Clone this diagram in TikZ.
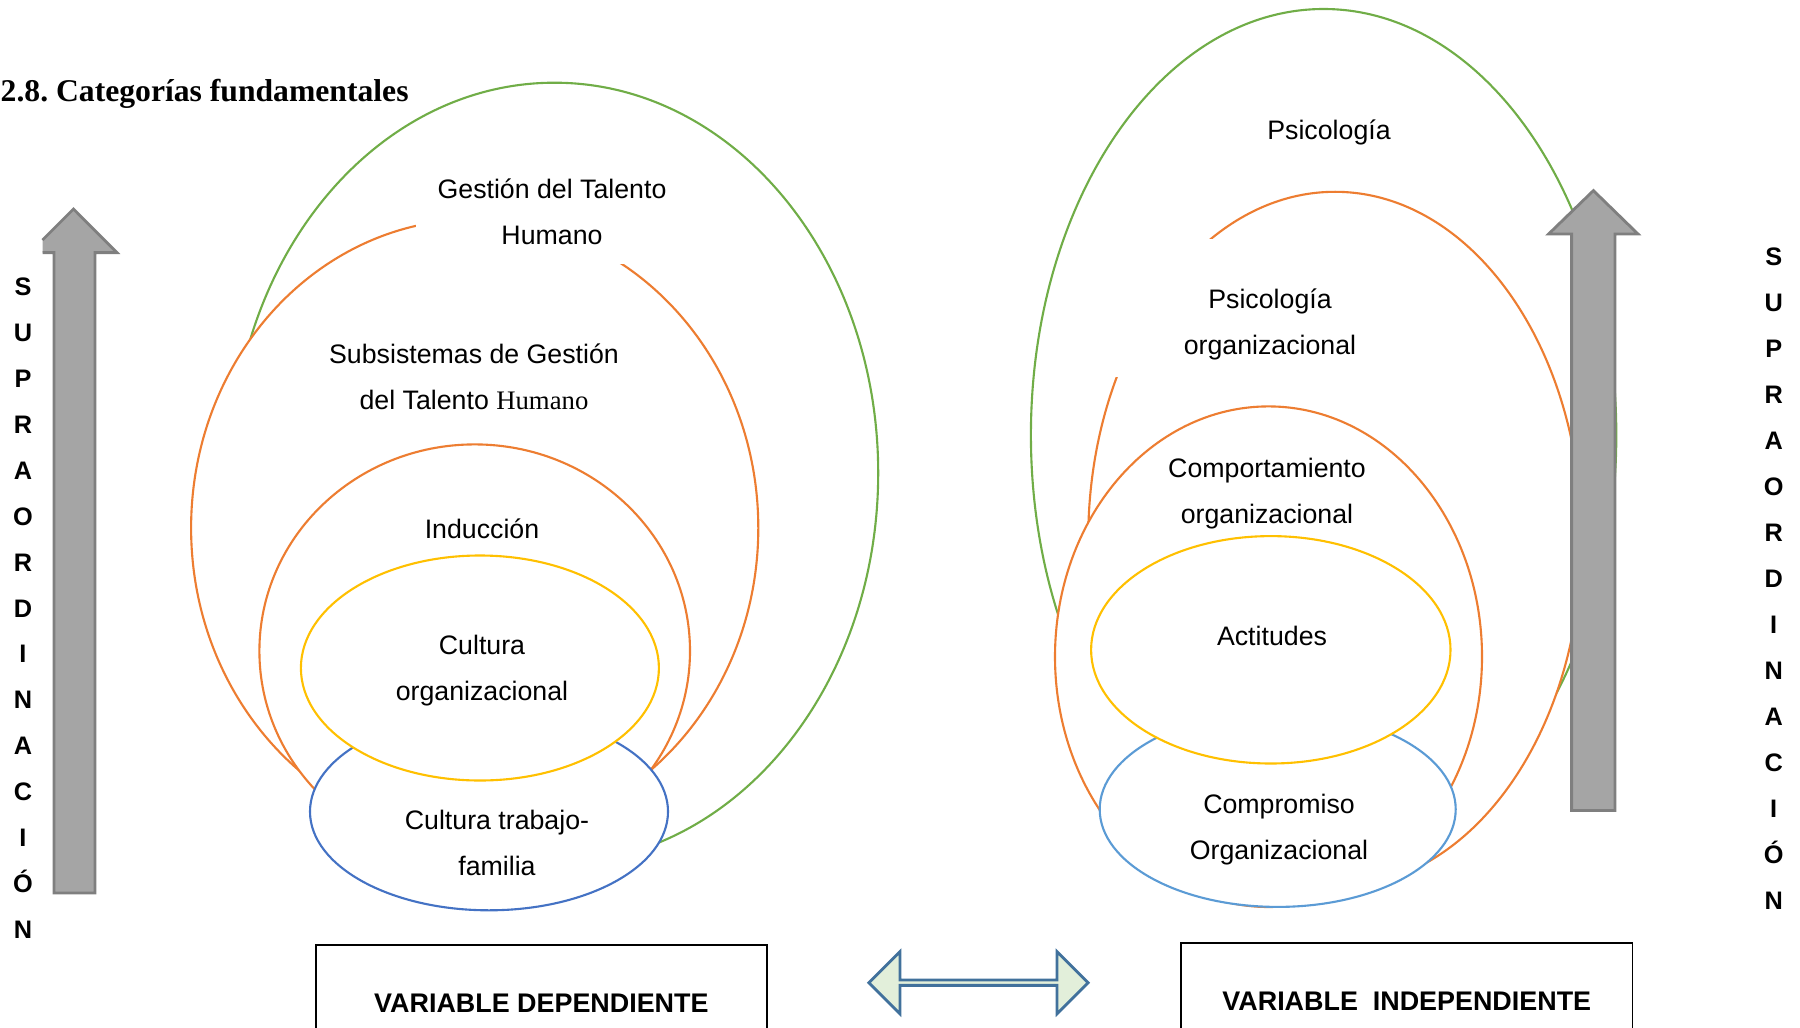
\documentclass[tikz,border=0pt]{standalone}
\usepackage{fontspec}
\setmainfont{Liberation Sans}
\newfontfamily\romana{Liberation Serif}
\usetikzlibrary{shapes.arrows}

\definecolor{verde}{HTML}{70AD47}
\definecolor{naranja}{HTML}{ED7D31}
\definecolor{amarillo}{HTML}{FFC000}
\definecolor{azul}{HTML}{4472C4}
\definecolor{celeste}{HTML}{5B9BD5}
\definecolor{gris}{HTML}{A5A5A5}
\definecolor{grisborde}{HTML}{7F7F7F}
\definecolor{verdeclaro}{HTML}{E2EFDA}
\definecolor{azulborde}{HTML}{41719C}

\tikzstyle{ring} = [fill=white, line width=0.6pt]
\tikzstyle{tapa} = [fill=white, draw=none]
\tikzstyle{categoria} = [align=center, inner sep=0pt, font=\fontsize{7.6pt}{13.1pt}\selectfont]
\tikzstyle{flecha} = [fill=gris, draw=grisborde, line width=0.8pt]
\tikzstyle{letra} = [anchor=base, inner sep=0pt, font=\fontsize{7.2pt}{8pt}\selectfont\bfseries]
\tikzstyle{varcaja} = [rectangle, draw=black, line width=0.5pt, minimum width=4.51cm, minimum height=1.16cm, font=\fontsize{7.65pt}{9pt}\selectfont\bfseries]

\begin{document}
\begin{tikzpicture}[x=0.01cm, y=-0.01cm]
\path[use as bounding box, clip] (0,0) rectangle (1800,1027);

\node[anchor=base west, inner sep=0pt, font=\romana\bfseries\fontsize{9pt}{11pt}\selectfont] (titulo) at (0,101) {2.8.\ Categorías fundamentales};

% variable dependiente
\draw[ring, draw=verde] (554.5,473) ellipse [x radius=323.7, y radius=390.3];
\draw[ring, draw=naranja] (474.7,528) ellipse [x radius=283.6, y radius=308.8];
\draw[ring, draw=naranja] (474.7,651) ellipse [x radius=215.3, y radius=206.6];
\draw[ring, draw=azul] (489,811.6) ellipse [x radius=179, y radius=98.7];
\draw[ring, draw=amarillo] (479.9,668) ellipse [x radius=179, y radius=112.5];
\fill[tapa] (415.6,152) rectangle (688.8,264);

\node[categoria] (gth) at (552,212) {Gestión del Talento\\Humano};
\node[categoria] (subsistemas) at (474,377) {Subsistemas de Gestión\\del Talento {\romana Humano}};
\node[categoria] (induccion) at (482,529) {Inducción};
\node[categoria] (cultura) at (482,671) {Cultura\\organizacional};
\node[categoria] (trabajo) at (497,843) {Cultura trabajo-\\familia};

% variable independiente
\draw[ring, draw=verde] (1323.6,435) ellipse [x radius=292.7, y radius=426];
\draw[ring, draw=naranja] (1335,539.6) ellipse [x radius=246.8, y radius=347.8];
\draw[ring, draw=naranja] (1268.5,656.7) ellipse [x radius=213.5, y radius=250.3];
\draw[ring, draw=celeste] (1277.7,809.3) ellipse [x radius=178, y radius=97.6];
\draw[ring, draw=amarillo] (1270.8,649.8) ellipse [x radius=179.7, y radius=113.7];
\fill[tapa] (1108,239) rectangle (1432,376.5);

\node[categoria] (psicologia) at (1329,132) {Psicología};
\node[categoria] (psicorg) at (1270,324) {Psicología\\organizacional};
\node[categoria] (comportamiento) at (1267,494) {Comportamiento\\organizacional};
\node[categoria] (actitudes) at (1272,636) {Actitudes};
\node[categoria] (compromiso) at (1279,830) {Compromiso\\Organizacional};

% flechas grises
\fill[gris] (42.5,240) -- (73.5,209) -- (117,252.6) -- (95,252.6) -- (95,893) -- (54,893) -- (54,252.6) -- (42.5,252.6) -- cycle;
\draw[flecha, fill=none] (42.5,240) -- (73.5,209) -- (117,252.6) -- (95,252.6) -- (95,893) -- (54,893) -- (54,252.6) -- (42.5,252.6);
\draw[flecha] (1593.4,190.6) -- (1638,234) -- (1615,234) -- (1615,810.5) -- (1571.6,810.5) -- (1571.6,234) -- (1548.6,234) -- cycle;

\foreach \letra [count=\i] in {S,U,P,R,A,O,R,D,I,N,A,C,I,Ó,N}{
  \node[letra] (izq\i) at (23,{295.7+45.9*(\i-1)}) {\letra};
  \node[letra] (der\i) at (1773.7,{265+46*(\i-1)}) {\letra};
}

% cajas
\node[varcaja] (dependiente) at (541.4,1003) {VARIABLE DEPENDIENTE};
\node[varcaja] (independiente) at (1406.8,1001) {VARIABLE\ \ INDEPENDIENTE};
\node[double arrow, draw=azulborde, fill=verdeclaro, line width=0.8pt, inner sep=0pt,
      minimum width=0.62cm, double arrow head extend=0.15cm, minimum height=2.19cm] (enlace) at (978.5,982.7) {};

\end{tikzpicture}
\end{document}
